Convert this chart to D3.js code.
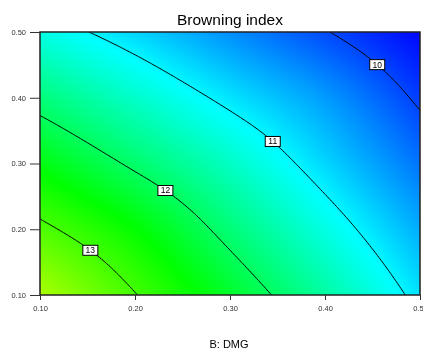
<!DOCTYPE html>
<html><head><meta charset="utf-8">
<script src="https://cdn.jsdelivr.net/npm/d3@7"></script>
<style>
html,body{margin:0;padding:0;background:#fff;}
#chart{position:relative;width:423px;height:350px;overflow:hidden;}
#chart canvas,#chart svg{position:absolute;left:0;top:0;}
</style></head><body><div id="chart"></div>
<script>
// Factor levels of the design grid
const dmgLevels = [0.10, 0.20, 0.30, 0.40, 0.50];      // B: DMG (columns)
const factorLevels = [0.10, 0.20, 0.30, 0.40, 0.50];   // second factor (rows)
// Predicted browning index at each grid node, one row per factorLevels entry
const browning = [
  [13.730, 13.020, 12.310, 11.600, 10.890],
  [13.100, 12.555, 11.855, 11.210, 10.580],
  [12.460, 11.925, 11.395, 10.822, 10.260],
  [11.830, 11.360, 10.902, 10.480, 9.940],
  [11.200, 10.810, 10.410, 10.020, 9.630]
];
const contourLevels = [10, 11, 12, 13];
const labelDmg = [0.455, 0.345, 0.232, 0.153];   // DMG position of each contour label
const xTicks = ["0.10", "0.20", "0.30", "0.40", "0.50"];
const yTicks = ["0.10", "0.20", "0.30", "0.40", "0.50"];
const colorStops = [9.6, 11.05, 12.55, 14.3];
const colorRamp = ["#0000ff", "#00ffff", "#00ff00", "#ffff00"];

const W = 423, H = 350;
const plot = {left: 40, right: 420, top: 32, bottom: 295};

const x = d3.scaleLinear().domain([dmgLevels[0], dmgLevels[dmgLevels.length - 1]]).range([plot.left, plot.right]);
const y = d3.scaleLinear().domain([factorLevels[0], factorLevels[factorLevels.length - 1]]).range([plot.bottom, plot.top]);
const color = d3.scaleLinear().domain(colorStops).range(colorRamp).clamp(true);

// node table padded with one linearly extrapolated ring, for cubic interpolation
const nx = dmgLevels.length, ny = factorLevels.length;
const padded = [];
for (let j = -1; j <= ny; j++) {
  const jj = Math.max(0, Math.min(ny - 1, j));
  const src = j < 0 ? browning[0].map((v, i) => 2 * v - browning[1][i])
            : j >= ny ? browning[ny - 1].map((v, i) => 2 * v - browning[ny - 2][i])
            : browning[jj];
  const row = [2 * src[0] - src[1], ...src, 2 * src[nx - 1] - src[nx - 2]];
  padded.push(row);
}
function weights(u) {
  const u2 = u * u, u3 = u2 * u;
  return [(-u3 + 2 * u2 - u) / 2, (3 * u3 - 5 * u2 + 2) / 2, (-3 * u3 + 4 * u2 + u) / 2, (u3 - u2) / 2];
}
function locate(levels, v) {
  const f = (v - levels[0]) / (levels[1] - levels[0]);
  const i = Math.max(0, Math.min(levels.length - 2, Math.floor(f)));
  return [i, f - i];
}
function surface(a, b) {
  const [i, u] = locate(dmgLevels, a);
  const [j, t] = locate(factorLevels, b);
  const wu = weights(u), wt = weights(t);
  let s = 0;
  for (let q = 0; q < 4; q++) {
    const row = padded[j + q];   // padded index j+q == node row j-1+q
    let r = 0;
    for (let p = 0; p < 4; p++) r += wu[p] * row[i + p];
    s += wt[q] * r;
  }
  return s;
}

const chart = d3.select("#chart");

// colour fill of the response surface
const canvas = chart.append("canvas").attr("width", W).attr("height", H).node();
const ctx = canvas.getContext("2d");
const pw = plot.right - plot.left, ph = plot.bottom - plot.top;
const img = ctx.createImageData(pw, ph);
for (let py = 0; py < ph; py++) {
  const b = y.invert(plot.top + py + 0.5);
  for (let px = 0; px < pw; px++) {
    const a = x.invert(plot.left + px + 0.5);
    const c = d3.rgb(color(surface(a, b)));
    const k = (py * pw + px) * 4;
    img.data[k] = c.r; img.data[k + 1] = c.g; img.data[k + 2] = c.b; img.data[k + 3] = 255;
  }
}
ctx.putImageData(img, plot.left, plot.top);

const svg = chart.append("svg").attr("width", W).attr("height", H);

svg.append("defs").append("clipPath").attr("id", "plotClip")
  .append("rect").attr("x", plot.left).attr("y", plot.top).attr("width", pw).attr("height", ph);

// contour lines on a fine sampling of the surface
const N = 161;
const step = (dmgLevels[nx - 1] - dmgLevels[0]) / (N - 1);
const stepY = (factorLevels[ny - 1] - factorLevels[0]) / (N - 1);
const values = new Array(N * N);
for (let j = 0; j < N; j++)
  for (let i = 0; i < N; i++)
    values[j * N + i] = surface(dmgLevels[0] + i * step, factorLevels[0] + j * stepY);

const contours = d3.contours().size([N, N]).thresholds(contourLevels)(values);
const toPx = p => [x(dmgLevels[0] + (p[0] - 0.5) * step), y(factorLevels[0] + (p[1] - 0.5) * stepY)];
const ring = d3.line();

svg.append("g").attr("clip-path", "url(#plotClip)")
  .selectAll("path").data(contours).join("path")
  .attr("fill", "none").attr("stroke", "#000").attr("stroke-width", 1)
  .attr("d", c => c.coordinates.map(poly => poly.map(r => ring(r.map(toPx)) + "Z").join("")).join(""));

// plot frame
svg.append("rect").attr("x", plot.left).attr("y", plot.top).attr("width", pw).attr("height", ph)
  .attr("fill", "none").attr("stroke", "#222").attr("stroke-width", 1.5);

// contour labels
contourLevels.forEach((lev, k) => {
  const a = labelDmg[k];
  let lo = factorLevels[0], hi = factorLevels[ny - 1];
  for (let it = 0; it < 40; it++) {
    const mid = (lo + hi) / 2;
    if (surface(a, mid) > lev) lo = mid; else hi = mid;
  }
  const cx = x(a), cy = y((lo + hi) / 2);
  const g = svg.append("g").attr("transform", `translate(${cx},${cy})`);
  g.append("rect").attr("x", -7.5).attr("y", -5).attr("width", 15).attr("height", 10)
    .attr("fill", "#fff").attr("stroke", "#000").attr("stroke-width", 1);
  g.append("text").attr("text-anchor", "middle").attr("dy", "0.35em")
    .attr("font-family", "Liberation Sans, Arial, sans-serif").attr("font-size", 8.5)
    .attr("fill", "#000").text(lev);
});

// axes
const tickFont = g => g.selectAll("text")
  .attr("font-family", "Liberation Sans, Arial, sans-serif").attr("font-size", 7.5).attr("fill", "#333");

svg.append("g").attr("transform", `translate(0,${plot.bottom})`)
  .call(d3.axisBottom(x).tickValues(dmgLevels).tickFormat((d, i) => xTicks[i]).tickSize(5).tickPadding(6))
  .call(g => g.select(".domain").remove())
  .call(g => g.selectAll("line").attr("stroke", "#333"))
  .call(tickFont);

svg.append("g").attr("transform", `translate(${plot.left},0)`)
  .call(d3.axisLeft(y).tickValues(factorLevels).tickFormat((d, i) => yTicks[i]).tickSize(10).tickPadding(4))
  .call(g => g.select(".domain").remove())
  .call(g => g.selectAll("line").attr("stroke", "#333"))
  .call(tickFont);

// titles
svg.append("text").attr("x", 230).attr("y", 25).attr("text-anchor", "middle")
  .attr("font-family", "Liberation Sans, Arial, sans-serif").attr("font-size", 15.5).attr("fill", "#000")
  .text("Browning index");
svg.append("text").attr("x", 229).attr("y", 348).attr("text-anchor", "middle")
  .attr("font-family", "Liberation Sans, Arial, sans-serif").attr("font-size", 11).attr("fill", "#000")
  .text("B: DMG");
</script></body></html>
